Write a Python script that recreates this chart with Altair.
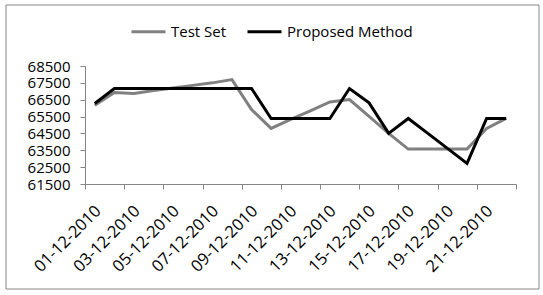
import json
import altair as alt
import pandas as pd

dates = ["01-12-2010", "02-12-2010", "03-12-2010", "04-12-2010", "05-12-2010",
         "06-12-2010", "07-12-2010", "08-12-2010", "09-12-2010", "10-12-2010",
         "11-12-2010", "12-12-2010", "13-12-2010", "14-12-2010", "15-12-2010",
         "16-12-2010", "17-12-2010", "18-12-2010", "19-12-2010", "20-12-2010",
         "21-12-2010", "22-12-2010"]
test_set = [66175, 66926, 66867, 67050, 67200, 67350, 67500, 67695, 65920, 64796,
            65328, 65840, 66370, 66510, 65506, 64500, 63571, 63571, 63571, 63571,
            64796, 65388]
proposed = [66275, 67163, 67163, 67163, 67163, 67163, 67163, 67163, 67163, 65388,
            65388, 65388, 65388, 67163, 66311, 64500, 65388, 64500, 63612, 62725,
            65388, 65388]
series_names = ["Test Set", "Proposed Method"]
series_colors = ["#808080", "#000000"]
y_ticks = [61500, 62500, 63500, 64500, 65500, 66500, 67500, 68500]
x_ticks = list(range(0, len(dates) + 1, 2))

rows = []
for i, d in enumerate(dates):
    rows.append({"date": d, "day": i, "series": series_names[0], "value": test_set[i]})
    rows.append({"date": d, "day": i, "series": series_names[1], "value": proposed[i]})
df = pd.DataFrame(rows)

W, H = 431, 118
axis_gray = "#868686"

x_enc = alt.X(
    "pos:Q",
    scale=alt.Scale(domain=[0, len(dates)], nice=False, zero=False),
    axis=alt.Axis(
        values=x_ticks,
        labelExpr="(" + json.dumps(dates) + ")[datum.value] || ''",
        labelOffset=W / len(dates) / 2 + 3,
        labelAngle=-45,
        labelAlign="right",
        labelBaseline="middle",
        labelPadding=19,
        tickSize=5,
        grid=False,
        domainColor=axis_gray,
        tickColor=axis_gray,
        labelFontSize=16.5,
        labelColor="#000000",
        labelOverlap=False,
        labelFlush=False,
    ),
    title=None,
)
y_enc = alt.Y(
    "value:Q",
    scale=alt.Scale(domain=[61500, 68500], nice=False, zero=False),
    axis=alt.Axis(
        values=y_ticks,
        format="d",
        tickSize=5,
        labelPadding=10,
        grid=False,
        domainColor=axis_gray,
        tickColor=axis_gray,
        labelFontSize=15,
        labelColor="#000000",
        labelOverlap=False,
        labelFlush=False,
    ),
    title=None,
)
color_enc = alt.Color(
    "series:N",
    scale=alt.Scale(domain=series_names, range=series_colors),
    legend=alt.Legend(
        title=None,
        orient="none",
        legendX=45,
        legendY=-53,
        direction="horizontal",
        symbolType="stroke",
        symbolSize=1156,
        symbolStrokeWidth=3,
        labelFontSize=15,
        labelColor="#000000",
        labelOffset=4,
        columnPadding=14,
    ),
)

base = alt.Chart(df).transform_calculate(pos="datum.day + 0.5")
gray_line = base.transform_filter(alt.datum.series == series_names[0]).mark_line(strokeWidth=3).encode(
    x=x_enc, y=y_enc, color=color_enc)
black_line = base.transform_filter(alt.datum.series == series_names[1]).mark_line(strokeWidth=3).encode(
    x=x_enc, y=y_enc, color=color_enc)

border = alt.Chart(pd.DataFrame({"a": [0]})).mark_rect(
    filled=False, stroke=axis_gray, strokeWidth=1
).encode(x=alt.value(-79), x2=alt.value(454), y=alt.value(-61), y2=alt.value(223))

chart = alt.layer(border, gray_line, black_line).properties(
    width=W, height=H,
    autosize=alt.AutoSizeParams(type="none"),
    padding={"left": 85, "top": 66, "right": 27, "bottom": 111},
    background="white",
).configure(font="Open Sans").configure_view(stroke=None)

chart.save("out.html", embed_options={"renderer": "svg", "actions": False})
